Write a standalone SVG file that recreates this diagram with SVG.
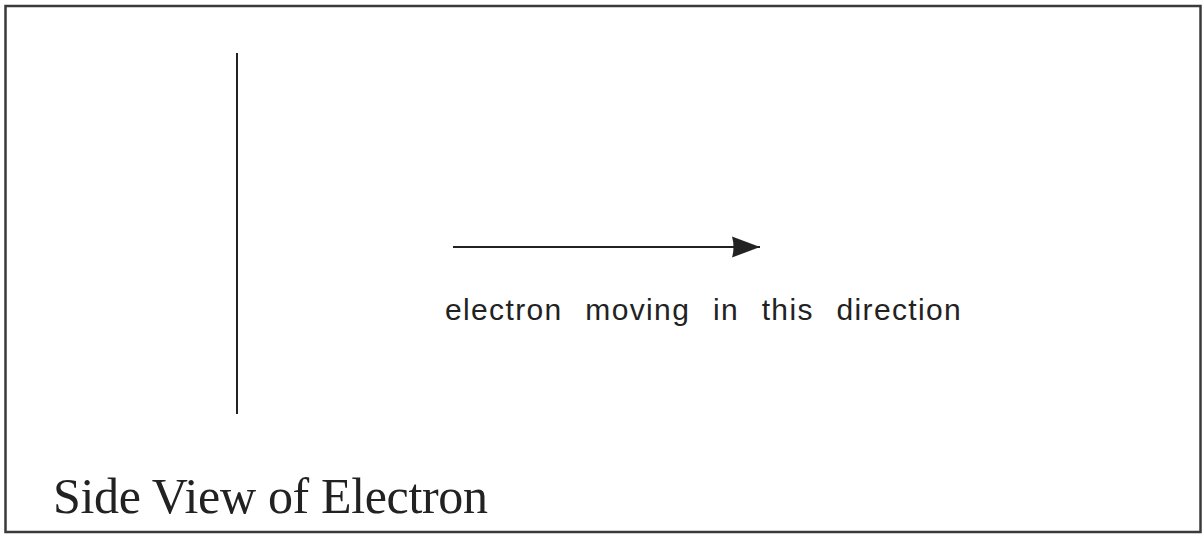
<svg xmlns="http://www.w3.org/2000/svg" width="1203" height="535" viewBox="0 0 1203 535">
<style>
.frame{fill:none;stroke:#3a3a3a;stroke-width:2.5}
.ln{stroke:#222;stroke-width:2;fill:none}
.lbl{font-family:"Liberation Sans","DejaVu Sans",sans-serif;font-size:30px;letter-spacing:1.2px;word-spacing:13px;fill:#222}
.title{font-family:"Liberation Serif","DejaVu Serif",serif;font-size:50px;fill:#222}
</style>
<defs>
<marker id="ah" markerUnits="userSpaceOnUse" markerWidth="30" markerHeight="24" refX="29" refY="12" orient="auto">
<path d="M1,1.5 Q4,12 1,22.5 L29,12 Z" fill="#222"/>
</marker>
</defs>
<rect class="frame" x="5.5" y="6" width="1195" height="526"/>
<g id="electron">
<line class="ln" x1="237" y1="53" x2="237" y2="414"/>
</g>
<g id="connectors">
<line class="ln" x1="453" y1="247" x2="760" y2="247" marker-end="url(#ah)"/>
</g>
<g id="direction-label">
<text class="lbl" x="445" y="320" textLength="517" lengthAdjust="spacing">electron moving in this direction</text>
</g>
<g id="title">
<text class="title" x="53" y="513" textLength="435" lengthAdjust="spacing">Side View of Electron</text>
</g>
</svg>
